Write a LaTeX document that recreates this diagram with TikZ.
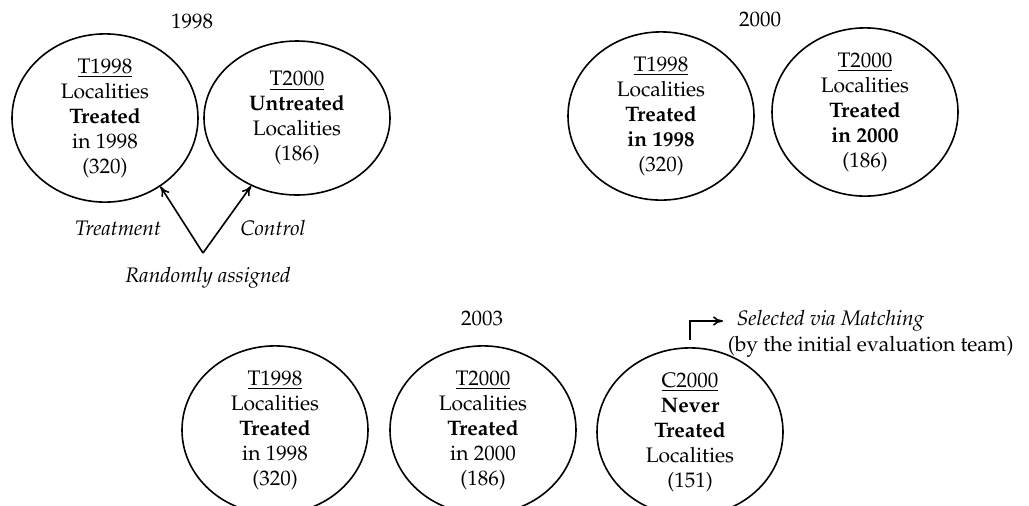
\documentclass[tikz,border=0pt]{standalone}
\usepackage[T1]{fontenc}
\usepackage{mathpazo}
\usetikzlibrary{shapes.geometric,positioning,arrows.meta}
\newcommand{\locWidth}{93pt}
\newcommand{\locHeight}{77pt}
\tikzset{
  locality/.style={draw, ellipse, align=center, inner sep=0pt,
    minimum width=\locWidth, minimum height=\locHeight},
  note/.style={font=\fontsize{10.5}{12.5}\selectfont\itshape}
}

\begin{document}
\begin{tikzpicture}[thick, x=0.5pt, y=-0.5pt, >={To[length=5pt,width=4.6pt]}, font=\fontsize{10.5}{12.5}\selectfont]
	\useasboundingbox (0,0) rectangle (1029,505);
	% 1998
	\node (yr98) at (192,21) {1998};
	\node[locality] (a98) at (105,118) {\underline{T1998}\\Localities\\\textbf{Treated}\\in 1998\\(320)};
	\node[locality] (b98) at (297,118) {\underline{T2000}\\\textbf{Untreated}\\Localities\\(186)};
	\coordinate (rand) at (203,253);
	\draw[->] (rand) -- (a98.-51);
	\draw[->] (rand) -- (b98.-124);
	\node[note] (treat) at (118,228) {Treatment};
	\node[note] (ctrl) at (273,228) {Control};
	\node[note] (assign) at (208,278) {Randomly assigned};
	% 2000
	\node (yr00) at (760,19) {2000};
	\node[locality] (a00) at (661,116) {\underline{T1998}\\Localities\\\textbf{Treated}\\\textbf{in 1998}\\(320)};
	\node[locality] (b00) at (865,112) {\underline{T2000}\\Localities\\\textbf{Treated}\\\textbf{in 2000}\\(186)};
	% 2003
	\node (yr03) at (482,318) {2003};
	\node[locality] (a03) at (275,430) {\underline{T1998}\\Localities\\\textbf{Treated}\\in 1998\\(320)};
	\node[locality] (b03) at (483,430) {\underline{T2000}\\Localities\\\textbf{Treated}\\in 2000\\(186)};
	\node[locality] (c03) at (690,432) {\underline{C2000}\\\textbf{Never}\\\textbf{Treated}\\Localities\\(151)};
	\node[note, anchor=west, inner xsep=6.5pt] (sel) at (723,321) {Selected via Matching};
	\node[anchor=west, inner xsep=0pt] (team) at (727,347) {(by the initial evaluation team)};
	\draw[->] ([yshift=3.5pt]c03.north) |- (sel.west);
\end{tikzpicture}
\end{document}
